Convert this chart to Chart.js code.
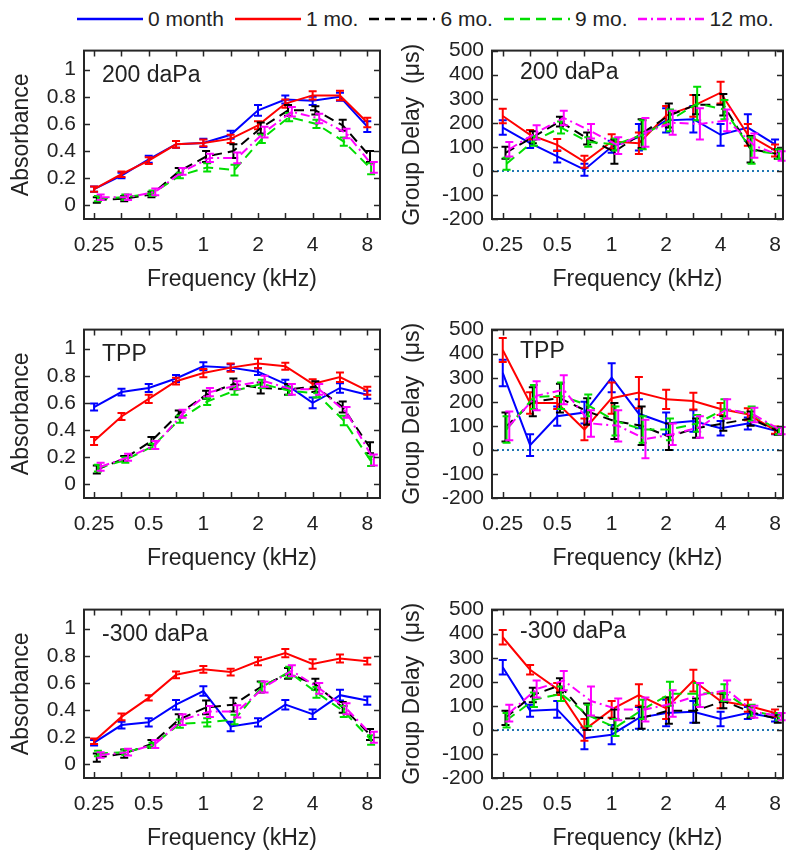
<!DOCTYPE html>
<html><head><meta charset="utf-8">
<script src="https://cdn.jsdelivr.net/npm/chart.js@4.4.1/dist/chart.umd.min.js"></script>
<style>
body{margin:0;background:#fff;}
#wrap{position:relative;width:800px;height:862px;overflow:hidden;background:#fff;font-family:"Liberation Sans",Arial,sans-serif;color:#222}
.panel{position:absolute}
#legend{position:absolute;left:77px;top:6px;height:26px;display:flex;align-items:center;font-size:21px;white-space:nowrap}
#legend .it{display:flex;align-items:center;margin-right:11px}
#legend span{margin-left:5px}
</style></head><body>
<div id="wrap">
  <div id="legend"></div>
  <div class="panel" style="left:0;top:30px"><canvas id="c0" width="395" height="265"></canvas></div>
  <div class="panel" style="left:395px;top:30px"><canvas id="c1" width="405" height="265"></canvas></div>
  <div class="panel" style="left:0;top:309px"><canvas id="c2" width="395" height="265"></canvas></div>
  <div class="panel" style="left:395px;top:309px"><canvas id="c3" width="405" height="265"></canvas></div>
  <div class="panel" style="left:0;top:589px"><canvas id="c4" width="395" height="265"></canvas></div>
  <div class="panel" style="left:395px;top:589px"><canvas id="c5" width="405" height="265"></canvas></div>
</div>
<script>
// ---------- data ----------
const freqs = [0.25, 0.354, 0.5, 0.707, 1, 1.414, 2, 2.828, 4, 5.657, 8];
const octaveLabels = [0.25, 0.5, 1, 2, 4, 8];
const seriesLabels = ['0 month', '1 mo.', '6 mo.', '9 mo.', '12 mo.'];
const absTicks = [0, 0.2, 0.4, 0.6, 0.8, 1];
const gdTicks = [-200, -100, 0, 100, 200, 300, 400, 500];
const panelNames = ['200 daPa', 'TPP', '-300 daPa'];

// rows: 0 month, 1 mo., 6 mo., 9 mo., 12 mo.
const abs200 = [
  [0.12, 0.22, 0.34, 0.45, 0.46, 0.52, 0.70, 0.78, 0.77, 0.80, 0.58],
  [0.12, 0.23, 0.33, 0.45, 0.46, 0.49, 0.59, 0.75, 0.81, 0.81, 0.61],
  [0.04, 0.05, 0.08, 0.25, 0.36, 0.40, 0.57, 0.70, 0.70, 0.59, 0.36],
  [0.05, 0.06, 0.09, 0.22, 0.28, 0.26, 0.49, 0.65, 0.60, 0.47, 0.27],
  [0.06, 0.06, 0.10, 0.25, 0.35, 0.35, 0.54, 0.69, 0.64, 0.53, 0.28]
];
const abs200Err = [
  [0.02, 0.02, 0.025, 0.025, 0.03, 0.03, 0.04, 0.03, 0.03, 0.03, 0.04],
  [0.02, 0.02, 0.025, 0.025, 0.025, 0.03, 0.03, 0.03, 0.03, 0.035, 0.035],
  [0.02, 0.02, 0.02, 0.025, 0.04, 0.05, 0.04, 0.04, 0.03, 0.04, 0.04],
  [0.02, 0.02, 0.02, 0.02, 0.03, 0.04, 0.03, 0.03, 0.03, 0.03, 0.04],
  [0.02, 0.02, 0.025, 0.025, 0.03, 0.04, 0.04, 0.035, 0.035, 0.035, 0.04]
];
const gd200 = [
  [180, 115, 60, 5, 100, 140, 210, 215, 150, 180, 110],
  [228, 150, 108, 38, 122, 115, 230, 270, 325, 150, 85],
  [75, 140, 205, 135, 80, 155, 230, 275, 275, 90, 70],
  [30, 125, 180, 120, 110, 150, 210, 280, 255, 85, 70],
  [90, 160, 220, 165, 105, 160, 200, 195, 210, 105, 62]
];
const gd200Err = [
  [30, 20, 25, 25, 25, 55, 50, 55, 45, 55, 20],
  [30, 20, 25, 25, 30, 45, 40, 45, 45, 45, 25],
  [25, 25, 20, 25, 50, 60, 50, 40, 45, 55, 20],
  [25, 20, 25, 20, 25, 60, 45, 70, 40, 55, 20],
  [30, 30, 30, 30, 35, 60, 50, 65, 45, 50, 20]
];
const absTPP = [
  [0.57, 0.68, 0.71, 0.78, 0.87, 0.86, 0.83, 0.74, 0.60, 0.71, 0.66],
  [0.32, 0.50, 0.63, 0.76, 0.82, 0.86, 0.89, 0.87, 0.74, 0.79, 0.69],
  [0.11, 0.19, 0.32, 0.52, 0.66, 0.74, 0.71, 0.70, 0.72, 0.57, 0.27],
  [0.12, 0.18, 0.28, 0.48, 0.61, 0.69, 0.74, 0.69, 0.67, 0.47, 0.17],
  [0.13, 0.20, 0.29, 0.52, 0.68, 0.73, 0.76, 0.70, 0.70, 0.53, 0.18]
];
const absTPPErr = [
  [0.025, 0.025, 0.03, 0.025, 0.03, 0.025, 0.025, 0.03, 0.04, 0.035, 0.03],
  [0.03, 0.025, 0.03, 0.025, 0.03, 0.03, 0.035, 0.025, 0.035, 0.035, 0.03],
  [0.03, 0.02, 0.03, 0.025, 0.03, 0.04, 0.04, 0.04, 0.04, 0.04, 0.04],
  [0.025, 0.02, 0.02, 0.025, 0.025, 0.03, 0.03, 0.03, 0.03, 0.035, 0.035],
  [0.03, 0.025, 0.03, 0.03, 0.03, 0.03, 0.04, 0.04, 0.04, 0.04, 0.04]
];
const gdTPP = [
  [320, 20, 140, 155, 300, 150, 110, 120, 90, 110, 80],
  [415, 195, 195, 85, 215, 238, 210, 203, 170, 148, 82],
  [95, 200, 215, 160, 120, 100, 55, 90, 110, 130, 78],
  [85, 220, 225, 185, 120, 85, 85, 110, 170, 150, 80],
  [100, 225, 250, 110, 100, 45, 65, 95, 170, 145, 80]
];
const gdTPPErr = [
  [55, 45, 40, 45, 60, 60, 45, 45, 30, 25, 15],
  [50, 45, 25, 45, 65, 65, 40, 35, 25, 25, 15],
  [60, 60, 60, 55, 75, 80, 55, 40, 30, 30, 15],
  [55, 50, 55, 45, 60, 55, 45, 35, 40, 30, 15],
  [60, 60, 60, 55, 65, 80, 45, 45, 40, 30, 15]
];
const absM300 = [
  [0.16, 0.29, 0.31, 0.44, 0.54, 0.28, 0.31, 0.44, 0.37, 0.51, 0.47],
  [0.17, 0.35, 0.49, 0.66, 0.70, 0.68, 0.76, 0.82, 0.74, 0.78, 0.76],
  [0.05, 0.08, 0.15, 0.33, 0.42, 0.44, 0.57, 0.67, 0.59, 0.42, 0.22],
  [0.08, 0.09, 0.14, 0.30, 0.31, 0.33, 0.57, 0.68, 0.53, 0.39, 0.18],
  [0.07, 0.09, 0.15, 0.33, 0.39, 0.39, 0.57, 0.69, 0.56, 0.41, 0.20]
];
const absM300Err = [
  [0.02, 0.025, 0.03, 0.035, 0.035, 0.035, 0.03, 0.035, 0.035, 0.04, 0.03],
  [0.02, 0.025, 0.02, 0.025, 0.025, 0.025, 0.03, 0.03, 0.035, 0.03, 0.025],
  [0.03, 0.03, 0.03, 0.04, 0.05, 0.05, 0.04, 0.04, 0.04, 0.04, 0.04],
  [0.02, 0.02, 0.02, 0.03, 0.03, 0.035, 0.035, 0.04, 0.04, 0.04, 0.035],
  [0.02, 0.025, 0.03, 0.04, 0.04, 0.045, 0.04, 0.04, 0.04, 0.04, 0.04]
];
const gdM300 = [
  [260, 80, 85, -35, -20, 50, 70, 75, 45, 70, 50],
  [385, 250, 170, 0, 85, 145, 90, 205, 120, 100, 70],
  [50, 145, 185, 55, 45, 50, 80, 80, 120, 75, 45],
  [40, 125, 150, 60, 10, 85, 150, 150, 155, 80, 55],
  [70, 170, 205, 120, 85, 85, 110, 145, 165, 75, 55]
];
const gdM300Err = [
  [30, 25, 35, 45, 40, 45, 55, 45, 30, 25, 15],
  [30, 20, 25, 45, 35, 45, 45, 45, 30, 25, 15],
  [30, 30, 30, 55, 40, 45, 55, 50, 30, 25, 15],
  [30, 30, 30, 45, 35, 40, 50, 45, 35, 25, 15],
  [35, 35, 40, 60, 45, 50, 55, 50, 40, 25, 15]
];

// ---------- styles ----------
const FONT = '"Liberation Sans", Arial, sans-serif';
const TEXT = '#222222';
const colors = ['#0000ff', '#ff0000', '#000000', '#00dd00', '#ff00ff'];
const dashes = [[], [], [10, 6], [10, 6], [9, 4, 2, 4]];
const xShift = [0, 0, 0.05, 0.07, 0.12]; // horizontal jitter in octaves

// ---------- legend ----------
const leg = document.getElementById('legend');
seriesLabels.forEach((lab, s) => {
  const it = document.createElement('div'); it.className = 'it';
  const dash = dashes[s].length ? `stroke-dasharray="${dashes[s].join(' ')}"` : '';
  it.innerHTML = `<svg width="66" height="10"><line x1="0" y1="5" x2="66" y2="5" stroke="${colors[s]}" stroke-width="2.5" ${dash}/></svg><span>${lab}</span>`;
  leg.appendChild(it);
});

// ---------- plugin ----------
const deco = {
  id: 'panelDeco',
  beforeDatasetsDraw(chart, args, o) {
    if (o.isAbs) return;
    const {ctx, chartArea: a} = chart;
    const y0 = chart.scales.y.getPixelForValue(0);
    ctx.save();
    ctx.strokeStyle = '#1f77b4'; ctx.lineWidth = 2; ctx.setLineDash([2, 3]);
    ctx.beginPath(); ctx.moveTo(a.left, y0); ctx.lineTo(a.right, y0); ctx.stroke();
    ctx.restore();
  },
  afterDatasetDraw(chart, args) {
    const ds = chart.data.datasets[args.index];
    const ys = chart.scales.y;
    const ctx = chart.ctx;
    ctx.save();
    ctx.strokeStyle = ds.borderColor; ctx.lineWidth = 2; ctx.setLineDash([]);
    args.meta.data.forEach((pt, j) => {
      const v = ds.data[j].y, e = ds.errors[j];
      const t = ys.getPixelForValue(v + e), b = ys.getPixelForValue(v - e);
      ctx.beginPath();
      ctx.moveTo(pt.x, t); ctx.lineTo(pt.x, b);
      ctx.moveTo(pt.x - 4, t); ctx.lineTo(pt.x + 4, t);
      ctx.moveTo(pt.x - 4, b); ctx.lineTo(pt.x + 4, b);
      ctx.stroke();
    });
    ctx.restore();
  },
  afterDraw(chart, args, o) {
    const {ctx, chartArea: a} = chart;
    const xs = chart.scales.x, ys = chart.scales.y;
    ctx.save();
    ctx.strokeStyle = '#262626'; ctx.lineWidth = 1.5; ctx.setLineDash([]);
    ctx.beginPath();
    freqs.forEach(f => {
      const x = Math.round(xs.getPixelForValue(f)) + 0.5;
      ctx.moveTo(x, a.bottom); ctx.lineTo(x, a.bottom - 6);
      ctx.moveTo(x, a.top); ctx.lineTo(x, a.top + 6);
    });
    (o.isAbs ? absTicks : gdTicks).forEach(v => {
      const y = Math.round(ys.getPixelForValue(v)) + 0.5;
      ctx.moveTo(a.left, y); ctx.lineTo(a.left + 6, y);
      ctx.moveTo(a.right, y); ctx.lineTo(a.right - 6, y);
    });
    ctx.stroke();
    ctx.lineWidth = 2;
    ctx.strokeRect(a.left, a.top, a.right - a.left, a.bottom - a.top);
    ctx.fillStyle = TEXT; ctx.font = '23px ' + FONT;
    ctx.textBaseline = 'middle'; ctx.textAlign = 'left';
    ctx.fillText(o.name, a.left + (o.side === 'L' ? 18 : 28), a.top + (o.side === 'L' ? 25 : 22));
    ctx.restore();
  }
};

function makeChart(id, means, errs, isAbs, name, side) {
  const datasets = means.map((vals, s) => ({
    label: seriesLabels[s],
    data: freqs.map((f, j) => ({x: f * Math.pow(2, xShift[s]), y: vals[j]})),
    errors: errs[s],
    borderColor: colors[s], backgroundColor: colors[s],
    borderWidth: 2, borderDash: dashes[s], pointRadius: 0, tension: 0, fill: false,
    order: 5 - s
  }));
  new Chart(document.getElementById(id), {
    type: 'line',
    data: {datasets},
    options: {
      responsive: false, animation: false, devicePixelRatio: 1,
      layout: {padding: {left: 0, right: side === 'L' ? 15 : 17, top: 13, bottom: 0}},
      plugins: {legend: {display: false}, tooltip: {enabled: false}, panelDeco: {name, isAbs, side}},
      scales: {
        x: {
          type: 'logarithmic', bounds: 'data',
          min: side === 'L' ? 0.22 : 0.218, max: side === 'L' ? 9.4 : 8.85,
          afterBuildTicks: sc => { sc.ticks = freqs.map(v => ({value: v})); },
          afterFit: sc => { sc.height = 76; },
          grid: {display: false, drawTicks: false}, border: {display: false},
          ticks: {autoSkip: false, maxRotation: 0, minRotation: 0, padding: 14, color: TEXT,
            font: {size: 21, family: FONT},
            callback: v => octaveLabels.includes(v) ? String(v) : ''},
          title: {display: true, text: 'Frequency (kHz)', color: TEXT, font: {size: 23, family: FONT},
            padding: {top: 0, bottom: 2}}
        },
        y: {
          bounds: 'data',
          min: isAbs ? -0.1 : -200, max: isAbs ? 1.14 : 500,
          afterBuildTicks: sc => { sc.ticks = (isAbs ? absTicks : gdTicks).map(v => ({value: v})); },
          afterFit: sc => { sc.width = side === 'L' ? 84 : 97; },
          grid: {display: false, drawTicks: false}, border: {display: false},
          ticks: {autoSkip: false, padding: 8, color: TEXT, font: {size: 21, family: FONT}, callback: v => String(v)},
          title: {display: true, text: isAbs ? 'Absorbance' : 'Group Delay  (μs)', color: TEXT,
            font: {size: 23, family: FONT}, padding: {top: side === 'L' ? 8 : 4, bottom: 0}}
        }
      }
    },
    plugins: [deco]
  });
}

makeChart('c0', abs200, abs200Err, true, panelNames[0], 'L');
makeChart('c1', gd200, gd200Err, false, panelNames[0], 'R');
makeChart('c2', absTPP, absTPPErr, true, panelNames[1], 'L');
makeChart('c3', gdTPP, gdTPPErr, false, panelNames[1], 'R');
makeChart('c4', absM300, absM300Err, true, panelNames[2], 'L');
makeChart('c5', gdM300, gdM300Err, false, panelNames[2], 'R');
</script>
</body></html>
